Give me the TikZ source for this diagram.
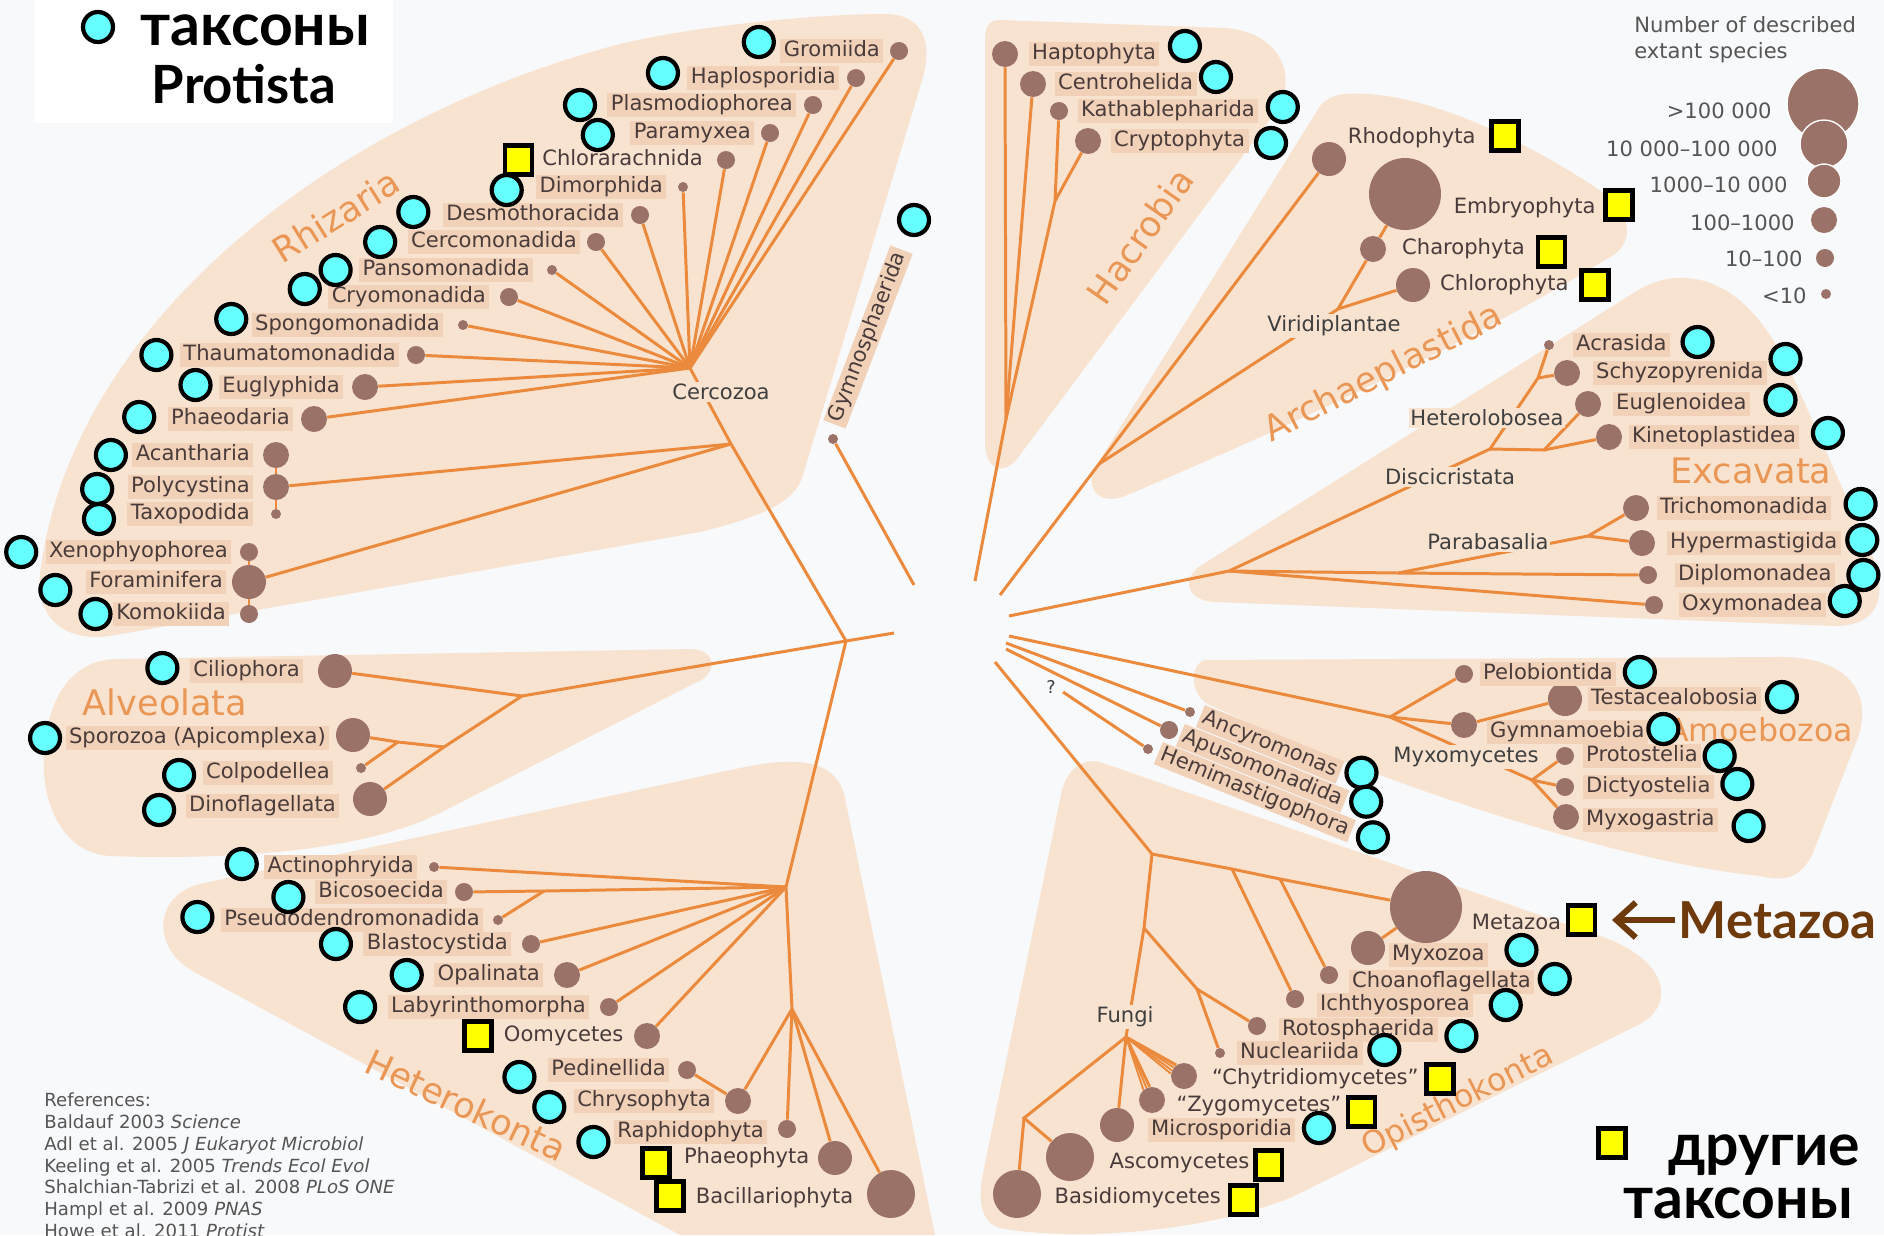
\documentclass[tikz,border=0pt]{standalone}
\usepackage{fontspec}
\setmainfont{DejaVu Sans}
\newfontfamily\titlefont{Lato}
\usetikzlibrary{positioning,arrows.meta}
\definecolor{pagebg}{HTML}{F8F9FB}
\definecolor{cladebg}{HTML}{F8E3D0}
\definecolor{lblbg}{HTML}{F1D2B8}
\definecolor{branchc}{HTML}{EB8A3C}
\definecolor{dotc}{HTML}{9B7268}
\definecolor{lbltxt}{HTML}{4A3B3B}
\definecolor{grouptxt}{HTML}{3F3F3F}
\definecolor{cladetxt}{HTML}{EA9655}
\definecolor{protcyan}{HTML}{66FFFF}
\definecolor{otheryellow}{HTML}{FFFF00}
\definecolor{metabrown}{HTML}{6E3A0C}
\definecolor{legtxt}{HTML}{555555}
\begin{document}
\begin{tikzpicture}[x=0.02cm,y=-0.02cm]
        \tikzstyle{clade}=[fill=cladebg]
        \tikzstyle{branch}=[draw=branchc, line width=1.7pt]
        \tikzstyle{taxon}=[circle, fill=dotc, inner sep=0pt]
        \tikzstyle{sp1}=[taxon, minimum size=0.2cm]
        \tikzstyle{sp2}=[taxon, minimum size=0.36cm]
        \tikzstyle{sp3}=[taxon, minimum size=0.52cm]
        \tikzstyle{sp4}=[taxon, minimum size=0.68cm]
        \tikzstyle{sp5}=[taxon, minimum size=0.96cm]
        \tikzstyle{sp6}=[taxon, minimum size=1.44cm]
        \tikzstyle{taxlbl}=[font=\fontsize{12}{14}\selectfont, text=lbltxt, inner xsep=2pt, inner ysep=1pt, text height=9pt, text depth=2.6pt]
        \tikzstyle{taxbox}=[taxlbl, fill=lblbg]
        \tikzstyle{grouplbl}=[font=\fontsize{12}{14}\selectfont, text=grouptxt, fill=cladebg, inner sep=1pt]
        \tikzstyle{cladename}=[font=\fontsize{20}{24}\selectfont, text=cladetxt, inner sep=0pt]
        \tikzstyle{protist}=[circle, draw=black, line width=2.4pt, fill=protcyan, minimum size=0.6cm, inner sep=0pt]
        \tikzstyle{otherbox}=[rectangle, draw=black, line width=2.4pt, fill=otheryellow, minimum width=0.54cm, minimum height=0.58cm, inner sep=0pt]
        \tikzstyle{titletxt}=[font=\titlefont\bfseries\fontsize{30}{34}\selectfont, inner sep=0pt]
        \tikzstyle{cyrtxt}=[font=\titlefont\bfseries\fontsize{33.5}{38}\selectfont, inner sep=0pt]
        \tikzstyle{legendtxt}=[font=\fontsize{12}{14.7}\selectfont, text=legtxt, inner sep=0pt]
        \tikzstyle{reftxt}=[font=\fontsize{10.3}{12.5}\selectfont, text=legtxt, inner sep=0pt, align=left]
        \tikzstyle{metaarrow}=[draw=metabrown, line width=3.4pt, -{Straight Barb[length=11pt, width=20pt]}]

        \fill[pagebg] (0,0) rectangle (1884,1235);
        \useasboundingbox (0,0) rectangle (1884,1235);

        \fill[clade] (620,44) .. controls (700,25) and (820,14) .. (885,14) .. controls (925,14) and (932,45) .. (923,77) -- (803,475) .. controls (795,503) and (760,517) .. (700,532) -- (110,636) .. controls (60,643) and (36,613) .. (40,574) .. controls (70,325) and (330,120) .. (620,44) -- cycle;
        \fill[clade] (1000,20) -- (1225,28) .. controls (1282,32) and (1300,80) .. (1274,114) -- (1020,455) .. controls (1004,478) and (985,470) .. (985,442) -- (985,38) .. controls (985,26) and (990,20) .. (1000,20) -- cycle;
        \fill[clade] (1345,94) .. controls (1420,89) and (1520,138) .. (1595,187) .. controls (1640,217) and (1632,248) .. (1605,260) .. controls (1450,355) and (1250,443) .. (1125,496) .. controls (1095,507) and (1083,483) .. (1098,463) -- (1320,106) .. controls (1327,98) and (1335,95) .. (1345,94) -- cycle;
        \fill[clade] (1676,278) .. controls (1730,275) and (1765,320) .. (1790,370) -- (1872,555) .. controls (1890,600) and (1875,626) .. (1835,626) -- (1215,602) .. controls (1185,601) and (1180,576) .. (1205,563) -- (1635,292) .. controls (1650,283) and (1662,279) .. (1676,278) -- cycle;
        \fill[clade] (1205,660) -- (1775,657) .. controls (1855,655) and (1875,700) .. (1855,745) -- (1812,855) .. controls (1800,878) and (1785,882) .. (1760,876) .. controls (1600,860) and (1350,770) .. (1212,706) .. controls (1190,698) and (1188,665) .. (1205,660) -- cycle;
        \fill[clade] (1100,762) -- (1600,936) .. controls (1670,960) and (1675,1005) .. (1640,1024) -- (1290,1198) .. controls (1180,1240) and (1050,1238) .. (1000,1228) .. controls (982,1223) and (978,1203) .. (982,1178) -- (1062,790) .. controls (1068,768) and (1084,758) .. (1100,762) -- cycle;
        \fill[clade] (115,659) -- (690,649) .. controls (718,649) and (718,675) .. (695,683) -- (440,813) .. controls (360,853) and (220,860) .. (110,856) .. controls (60,853) and (40,798) .. (44,751) .. controls (48,699) and (70,661) .. (115,659) -- cycle;
        \fill[clade] (785,762) .. controls (825,760) and (842,776) .. (846,803) -- (935,1235) -- (680,1235) -- (200,975) .. controls (150,952) and (152,896) .. (200,884) -- (740,768) .. controls (760,764) and (772,762) .. (785,762) -- cycle;

        \fill[white] (35,0) rectangle (393,123);

        \node[cladename, rotate=32] (nRhizaria) at (336,216) {Rhizaria};
        \node[cladename, rotate=55] (nHacrobia) at (1140,236) {Hacrobia};
        \node[cladename, rotate=27] (nArchaeplastida) at (1384,374) {Archaeplastida};
        \node[cladename] (nExcavata) at (1751,471) {Excavata};
        \node[cladename, font=\fontsize{18}{22}\selectfont] (nAmoebozoa) at (1760,730) {Amoebozoa};
        \node[cladename, rotate=27, font=\fontsize{18}{22}\selectfont] (nOpisthokonta) at (1458,1102) {Opisthokonta};
        \node[cladename] (nAlveolata) at (165,702) {Alveolata};
        \node[cladename, rotate=-25] (nHeterokonta) at (466,1105) {Heterokonta};

        \node[sp2] (dGromiida) at (899,51) {};
        \node[sp2] (dHaplosporidia) at (856,78) {};
        \node[sp2] (dPlasmodiophorea) at (813,105) {};
        \node[sp2] (dParamyxea) at (770,133) {};
        \node[sp2] (dChlorarachnida) at (726,160) {};
        \node[sp1] (dDimorphida) at (683,187) {};
        \node[sp2] (dDesmothoracida) at (640,215) {};
        \node[sp2] (dCercomonadida) at (596,242) {};
        \node[sp1] (dPansomonadida) at (552,270) {};
        \node[sp2] (dCryomonadida) at (509,297) {};
        \node[sp1] (dSpongomonadida) at (463,325) {};
        \node[sp2] (dThaumatomonadida) at (416,355) {};
        \node[sp3] (dEuglyphida) at (365,387) {};
        \node[sp3] (dPhaeodaria) at (314,419) {};
        \node[sp3] (dAcantharia) at (276,455) {};
        \node[sp3] (dPolycystina) at (276,487) {};
        \node[sp1] (dTaxopodida) at (276,514) {};
        \node[sp2] (dXenophyophorea) at (249,552) {};
        \node[sp4] (dForaminifera) at (249,582) {};
        \node[sp2] (dKomokiida) at (249,614) {};
        \node[sp1] (dGymnosphaerida) at (833,439) {};

        \node[sp4] (dCiliophora) at (335,671) {};
        \node[sp4] (dSporozoa) at (353,735) {};
        \node[sp1] (dColpodellea) at (361,768) {};
        \node[sp4] (dDinoflagellata) at (370,799) {};

        \node[sp1] (dActinophryida) at (434,867) {};
        \node[sp2] (dBicosoecida) at (464,892) {};
        \node[sp1] (dPseudodendromonadida) at (498,920) {};
        \node[sp2] (dBlastocystida) at (531,944) {};
        \node[sp3] (dOpalinata) at (567,975) {};
        \node[sp2] (dLabyrinthomorpha) at (609,1007) {};
        \node[sp3] (dOomycetes) at (647,1036) {};
        \node[sp2] (dPedinellida) at (687,1070) {};
        \node[sp3] (dChrysophyta) at (738,1101) {};
        \node[sp2] (dRaphidophyta) at (787,1129) {};
        \node[sp4] (dPhaeophyta) at (835,1158) {};
        \node[sp5] (dBacillariophyta) at (891,1194) {};

        \node[sp3] (dHaptophyta) at (1005,54) {};
        \node[sp3] (dCentrohelida) at (1033,84) {};
        \node[sp2] (dKathablepharida) at (1059,111) {};
        \node[sp3] (dCryptophyta) at (1088,141) {};

        \node[sp4] (dRhodophyta) at (1329,159) {};
        \node[sp6] (dEmbryophyta) at (1405,194) {};
        \node[sp3] (dCharophyta) at (1373,249) {};
        \node[sp4] (dChlorophyta) at (1413,285) {};

        \node[sp1] (dAcrasida) at (1549,345) {};
        \node[sp3] (dSchyzopyrenida) at (1567,373) {};
        \node[sp3] (dEuglenoidea) at (1588,404) {};
        \node[sp3] (dKinetoplastidea) at (1609,437) {};
        \node[sp3] (dTrichomonadida) at (1636,508) {};
        \node[sp3] (dHypermastigida) at (1642,543) {};
        \node[sp2] (dDiplomonadea) at (1648,575) {};
        \node[sp2] (dOxymonadea) at (1654,605) {};

        \node[sp2] (dPelobiontida) at (1464,674) {};
        \node[sp4] (dTestacealobosia) at (1565,699) {};
        \node[sp3] (dGymnamoebia) at (1464,725) {};
        \node[sp2] (dProtostelia) at (1565,756) {};
        \node[sp2] (dDictyostelia) at (1565,787) {};
        \node[sp3] (dMyxogastria) at (1566,817) {};

        \node[sp1] (dAncyromonas) at (1190,712) {};
        \node[sp2] (dApusomonadida) at (1169,730) {};
        \node[sp1] (dHemimastigophora) at (1148,749) {};

        \node[sp6] (dMetazoa) at (1426,907) {};
        \node[sp4] (dMyxozoa) at (1368,948) {};
        \node[sp2] (dChoanoflagellata) at (1329,975) {};
        \node[sp2] (dIchthyosporea) at (1295,999) {};
        \node[sp2] (dRotosphaerida) at (1257,1026) {};
        \node[sp1] (dNucleariida) at (1220,1053) {};
        \node[sp3] (dChytridiomycetes) at (1184,1076) {};
        \node[sp3] (dZygomycetes) at (1152,1100) {};
        \node[sp4] (dMicrosporidia) at (1117,1125) {};
        \node[sp5] (dAscomycetes) at (1070,1157) {};
        \node[sp5] (dBasidiomycetes) at (1017,1194) {};

        \coordinate (cRoot) at (846,641);
        \coordinate (cRootEnd) at (894,633);
        \coordinate (cRetaria) at (731,444);
        \coordinate (cCercozoa) at (690,368);
        \coordinate (cGymno) at (914,585);
        \coordinate (cAlveolata) at (522,696);
        \coordinate (cMyzozoa) at (444,747);
        \coordinate (cApicomplexa) at (398,742);
        \coordinate (cHeterokonta) at (786,887);
        \coordinate (cBicosoecida) at (544,891);
        \coordinate (cOchrophyta) at (792,1009);
        \coordinate (cHacrobiaEnd) at (975,581);
        \coordinate (cHacrobia) at (1006,419);
        \coordinate (cCryptista) at (1055,201);
        \coordinate (cArchaeplastidaEnd) at (1000,595);
        \coordinate (cArchaeplastida) at (1099,464);
        \coordinate (cViridiplantae) at (1338,309);
        \coordinate (cExcavataEnd) at (1009,616);
        \coordinate (cExcavata) at (1229,571);
        \coordinate (cFornicata) at (1398,573);
        \coordinate (cParabasalia) at (1588,536);
        \coordinate (cDiscicristata) at (1490,449);
        \coordinate (cHeterolobosea) at (1538,378);
        \coordinate (cEuglenozoa) at (1544,450);
        \coordinate (cAmoebozoaEnd) at (1009,636);
        \coordinate (cAmoebozoa) at (1390,717);
        \coordinate (cMyxomycetes) at (1532,780);
        \coordinate (cAncyromonasEnd) at (1006,643);
        \coordinate (cApusomonadidaEnd) at (1006,649);
        \coordinate (cHemimastigophoraEnd) at (1063,692);
        \coordinate (cOpisthokontaEnd) at (995,662);
        \coordinate (cOpisthokonta) at (1152,854);
        \coordinate (cIchthyo) at (1232,869);
        \coordinate (cChoano) at (1280,879);
        \coordinate (cHolomycota) at (1144,928);
        \coordinate (cNuclearia) at (1197,989);
        \coordinate (cFungi) at (1126,1037);
        \coordinate (cDikarya) at (1024,1118);

        \draw[branch] (cRootEnd) -- (cRoot) -- (cRetaria) -- (cCercozoa);
        \draw[branch] (cCercozoa) -- (dGromiida);
        \draw[branch] (cCercozoa) -- (dHaplosporidia);
        \draw[branch] (cCercozoa) -- (dPlasmodiophorea);
        \draw[branch] (cCercozoa) -- (dParamyxea);
        \draw[branch] (cCercozoa) -- (dChlorarachnida);
        \draw[branch] (cCercozoa) -- (dDimorphida);
        \draw[branch] (cCercozoa) -- (dDesmothoracida);
        \draw[branch] (cCercozoa) -- (dCercomonadida);
        \draw[branch] (cCercozoa) -- (dPansomonadida);
        \draw[branch] (cCercozoa) -- (dCryomonadida);
        \draw[branch] (cCercozoa) -- (dSpongomonadida);
        \draw[branch] (cCercozoa) -- (dThaumatomonadida);
        \draw[branch] (cCercozoa) -- (dEuglyphida);
        \draw[branch] (cCercozoa) -- (dPhaeodaria);
        \draw[branch] (cRetaria) -- (dPolycystina);
        \draw[branch] (cRetaria) -- (dForaminifera);
        \draw[branch] (dAcantharia) -- (dPolycystina) -- (dTaxopodida);
        \draw[branch] (dXenophyophorea) -- (dForaminifera) -- (dKomokiida);
        \draw[branch] (cGymno) -- (dGymnosphaerida);

        \draw[branch] (cRoot) -- (cAlveolata) -- (dCiliophora);
        \draw[branch] (cAlveolata) -- (cMyzozoa) -- (dDinoflagellata);
        \draw[branch] (cMyzozoa) -- (cApicomplexa) -- (dSporozoa);
        \draw[branch] (cApicomplexa) -- (dColpodellea);

        \draw[branch] (cRoot) -- (cHeterokonta) -- (cOchrophyta);
        \draw[branch] (cHeterokonta) -- (dActinophryida);
        \draw[branch] (cHeterokonta) -- (cBicosoecida) -- (dBicosoecida);
        \draw[branch] (cBicosoecida) -- (dPseudodendromonadida);
        \draw[branch] (cHeterokonta) -- (dBlastocystida);
        \draw[branch] (cHeterokonta) -- (dOpalinata);
        \draw[branch] (cHeterokonta) -- (dLabyrinthomorpha);
        \draw[branch] (cHeterokonta) -- (dOomycetes);
        \draw[branch] (cOchrophyta) -- (dChrysophyta);
        \draw[branch] (dPedinellida) -- (dChrysophyta);
        \draw[branch] (cOchrophyta) -- (dRaphidophyta);
        \draw[branch] (cOchrophyta) -- (dPhaeophyta);
        \draw[branch] (cOchrophyta) -- (dBacillariophyta);

        \draw[branch] (cHacrobiaEnd) -- (cHacrobia) -- (dHaptophyta);
        \draw[branch] (cHacrobia) -- (dCentrohelida);
        \draw[branch] (cHacrobia) -- (cCryptista) -- (dKathablepharida);
        \draw[branch] (cCryptista) -- (dCryptophyta);

        \draw[branch] (cArchaeplastidaEnd) -- (cArchaeplastida) -- (dRhodophyta);
        \draw[branch] (cArchaeplastida) -- (cViridiplantae) -- (dChlorophyta);
        \draw[branch] (cViridiplantae) -- (dCharophyta) -- (dEmbryophyta);

        \draw[branch] (cExcavataEnd) -- (cExcavata) -- (dOxymonadea);
        \draw[branch] (cExcavata) -- (cFornicata) -- (dDiplomonadea);
        \draw[branch] (cFornicata) -- (cParabasalia) -- (dTrichomonadida);
        \draw[branch] (cParabasalia) -- (dHypermastigida);
        \draw[branch] (cExcavata) -- (cDiscicristata) -- (cHeterolobosea) -- (dAcrasida);
        \draw[branch] (cHeterolobosea) -- (dSchyzopyrenida);
        \draw[branch] (cDiscicristata) -- (cEuglenozoa) -- (dEuglenoidea);
        \draw[branch] (cEuglenozoa) -- (dKinetoplastidea);

        \draw[branch] (cAmoebozoaEnd) -- (cAmoebozoa) -- (dPelobiontida);
        \draw[branch] (cAmoebozoa) -- (dGymnamoebia) -- (dTestacealobosia);
        \draw[branch] (cAmoebozoa) -- (cMyxomycetes) -- (dProtostelia);
        \draw[branch] (cMyxomycetes) -- (dDictyostelia);
        \draw[branch] (cMyxomycetes) -- (dMyxogastria);

        \draw[branch] (cAncyromonasEnd) -- (dAncyromonas);
        \draw[branch] (cApusomonadidaEnd) -- (dApusomonadida);
        \draw[branch] (cHemimastigophoraEnd) -- (dHemimastigophora);

        \draw[branch] (cOpisthokontaEnd) -- (cOpisthokonta) -- (cIchthyo) -- (cChoano) -- (dMetazoa);
        \draw[branch] (dMyxozoa) -- (dMetazoa);
        \draw[branch] (cChoano) -- (dChoanoflagellata);
        \draw[branch] (cIchthyo) -- (dIchthyosporea);
        \draw[branch] (cOpisthokonta) -- (cHolomycota) -- (cFungi);
        \draw[branch] (cHolomycota) -- (cNuclearia) -- (dRotosphaerida);
        \draw[branch] (cNuclearia) -- (dNucleariida);
        \draw[branch] (cFungi) -- (dChytridiomycetes.125);
        \draw[branch, line width=1.1pt] (cFungi) -- (dChytridiomycetes.140);
        \draw[branch, line width=1.1pt] (cFungi) -- (dChytridiomycetes.155);
        \draw[branch, line width=1.1pt] (cFungi) -- (dChytridiomycetes.170);
        \draw[branch] (cFungi) -- (dZygomycetes.100);
        \draw[branch, line width=1.1pt] (cFungi) -- (dZygomycetes.115);
        \draw[branch, line width=1.1pt] (cFungi) -- (dZygomycetes.130);
        \draw[branch] (cFungi) -- (dMicrosporidia);
        \draw[branch] (cFungi) -- (cDikarya) -- (dAscomycetes);
        \draw[branch] (cDikarya) -- (dBasidiomycetes);

        \node[grouplbl] (gCercozoa) at (721,392) {Cercozoa};
        \node[grouplbl] (gViridiplantae) at (1334,326) {Viridiplantae};
        \node[grouplbl] (gHeterolobosea) at (1487,418) {Heterolobosea};
        \node[grouplbl] (gDiscicristata) at (1450,477) {Discicristata};
        \node[grouplbl] (gParabasalia) at (1488,542) {Parabasalia};
        \node[grouplbl] (gMyxomycetes) at (1466,757) {Myxomycetes};
        \node[grouplbl] (gFungi) at (1125,1017) {Fungi};
        \node[font=\fontsize{10}{12}\selectfont, text=grouptxt] (gQuery) at (1051,687) {?};

        \node[taxbox, left=0.12cm of dGromiida] (lGromiida) {Gromiida};
        \node[taxbox, left=0.14cm of dHaplosporidia] (lHaplosporidia) {Haplosporidia};
        \node[taxbox, left=0.14cm of dPlasmodiophorea] (lPlasmodiophorea) {Plasmodiophorea};
        \node[taxbox, left=0.12cm of dParamyxea] (lParamyxea) {Paramyxea};
        \node[taxlbl, left=0.2cm of dChlorarachnida] (lChlorarachnida) {Chlorarachnida};
        \node[taxbox, left=0.22cm of dDimorphida] (lDimorphida) {Dimorphida};
        \node[taxbox, left=0.14cm of dDesmothoracida] (lDesmothoracida) {Desmothoracida};
        \node[taxbox, left=0.12cm of dCercomonadida] (lCercomonadida) {Cercomonadida};
        \node[taxbox, left=0.26cm of dPansomonadida] (lPansomonadida) {Pansomonadida};
        \node[taxbox, left=0.2cm of dCryomonadida] (lCryomonadida) {Cryomonadida};
        \node[taxbox, left=0.28cm of dSpongomonadida] (lSpongomonadida) {Spongomonadida};
        \node[taxbox, left=0.14cm of dThaumatomonadida] (lThaumatomonadida) {Thaumatomonadida};
        \node[taxbox, left=0.16cm of dEuglyphida] (lEuglyphida) {Euglyphida};
        \node[taxbox, left=0.14cm of dPhaeodaria] (lPhaeodaria) {Phaeodaria};
        \node[taxbox, left=0.18cm of dAcantharia] (lAcantharia) {Acantharia};
        \node[taxbox, left=0.18cm of dPolycystina] (lPolycystina) {Polycystina};
        \node[taxbox, left=0.34cm of dTaxopodida] (lTaxopodida) {Taxopodida};
        \node[taxbox, left=0.16cm of dXenophyophorea] (lXenophyophorea) {Xenophyophorea};
        \node[taxbox, left=0.1cm of dForaminifera] (lForaminifera) {Foraminifera};
        \node[taxbox, left=0.2cm of dKomokiida] (lKomokiida) {Komokiida};
        \node[taxbox, rotate=69] (lGymnosphaerida) at (868,337) {Gymnosphaerida};

        \node[taxbox, left=0.28cm of dCiliophora] (lCiliophora) {Ciliophora};
        \node[taxbox, left=0.12cm of dSporozoa, yshift=-0.06cm] (lSporozoa) {Sporozoa (Apicomplexa)};
        \node[taxbox, left=0.44cm of dColpodellea, yshift=-0.1cm] (lColpodellea) {Colpodellea};
        \node[taxbox, left=0.26cm of dDinoflagellata, yshift=-0.14cm] (lDinoflagellata) {Dinoflagellata};

        \node[taxbox, left=0.22cm of dActinophryida] (lActinophryida) {Actinophryida};
        \node[taxbox, left=0.14cm of dBicosoecida] (lBicosoecida) {Bicosoecida};
        \node[taxbox, left=0.18cm of dPseudodendromonadida] (lPseudodendromonadida) {Pseudodendromonadida};
        \node[taxbox, left=0.2cm of dBlastocystida] (lBlastocystida) {Blastocystida};
        \node[taxbox, left=0.2cm of dOpalinata] (lOpalinata) {Opalinata};
        \node[taxbox, left=0.2cm of dLabyrinthomorpha] (lLabyrinthomorpha) {Labyrinthomorpha};
        \node[taxlbl, left=0.13cm of dOomycetes] (lOomycetes) {Oomycetes};
        \node[taxbox, left=0.16cm of dPedinellida] (lPedinellida) {Pedinellida};
        \node[taxbox, left=0.2cm of dChrysophyta] (lChrysophyta) {Chrysophyta};
        \node[taxbox, left=0.2cm of dRaphidophyta, yshift=-0.06cm] (lRaphidophyta) {Raphidophyta};
        \node[taxlbl, left=0.09cm of dPhaeophyta] (lPhaeophyta) {Phaeophyta};
        \node[taxlbl, left=0.19cm of dBacillariophyta, yshift=-0.08cm] (lBacillariophyta) {Bacillariophyta};

        \node[taxbox, right=0.2cm of dHaptophyta] (lHaptophyta) {Haptophyta};
        \node[taxbox, right=0.16cm of dCentrohelida] (lCentrohelida) {Centrohelida};
        \node[taxbox, right=0.18cm of dKathablepharida] (lKathablepharida) {Kathablepharida};
        \node[taxbox, right=0.18cm of dCryptophyta] (lCryptophyta) {Cryptophyta};

        \node[taxlbl, anchor=west] (lRhodophyta) at (1344,138) {Rhodophyta};
        \node[taxlbl, anchor=west] (lEmbryophyta) at (1450,208) {Embryophyta};
        \node[taxlbl, right=0.24cm of dCharophyta] (lCharophyta) {Charophyta};
        \node[taxlbl, right=0.12cm of dChlorophyta] (lChlorophyta) {Chlorophyta};

        \node[taxbox, right=0.36cm of dAcrasida] (lAcrasida) {Acrasida};
        \node[taxbox, right=0.24cm of dSchyzopyrenida] (lSchyzopyrenida) {Schyzopyrenida};
        \node[taxbox, right=0.22cm of dEuglenoidea] (lEuglenoidea) {Euglenoidea};
        \node[taxbox, right=0.12cm of dKinetoplastidea] (lKinetoplastidea) {Kinetoplastidea};
        \node[taxbox, right=0.14cm of dTrichomonadida] (lTrichomonadida) {Trichomonadida};
        \node[taxbox, right=0.22cm of dHypermastigida] (lHypermastigida) {Hypermastigida};
        \node[taxbox, right=0.34cm of dDiplomonadea] (lDiplomonadea) {Diplomonadea};
        \node[taxbox, right=0.3cm of dOxymonadea] (lOxymonadea) {Oxymonadea};

        \node[taxbox, right=0.12cm of dPelobiontida] (lPelobiontida) {Pelobiontida};
        \node[taxbox, right=0.1cm of dTestacealobosia] (lTestacealobosia) {Testacealobosia};
        \node[taxbox, right=0.18cm of dGymnamoebia, yshift=-0.14cm] (lGymnamoebia) {Gymnamoebia};
        \node[taxbox, right=0.16cm of dProtostelia] (lProtostelia) {Protostelia};
        \node[taxbox, right=0.16cm of dDictyostelia] (lDictyostelia) {Dictyostelia};
        \node[taxbox, right=0.06cm of dMyxogastria, yshift=-0.06cm] (lMyxogastria) {Myxogastria};

        \node[taxbox, rotate=-22, anchor=west] (lAncyromonas) at (1200,716) {Ancyromonas};
        \node[taxbox, rotate=-22, anchor=west] (lApusomonadida) at (1180,735) {Apusomonadida};
        \node[taxbox, rotate=-22, anchor=west] (lHemimastigophora) at (1158,753) {Hemimastigophora};

        \node[taxlbl, anchor=west] (lMetazoa) at (1468,924) {Metazoa};
        \node[taxbox, right=0.06cm of dMyxozoa, yshift=-0.14cm] (lMyxozoa) {Myxozoa};
        \node[taxbox, right=0.2cm of dChoanoflagellata, yshift=-0.14cm] (lChoanoflagellata) {Choanoflagellata};
        \node[taxbox, right=0.24cm of dIchthyosporea, yshift=-0.12cm] (lIchthyosporea) {Ichthyosporea};
        \node[taxbox, right=0.24cm of dRotosphaerida, yshift=-0.08cm] (lRotosphaerida) {Rotosphaerida};
        \node[taxbox, right=0.22cm of dNucleariida] (lNucleariida) {Nucleariida};
        \node[taxlbl, right=0.22cm of dChytridiomycetes, yshift=-0.06cm] (lChytridiomycetes) {``Chytridiomycetes''};
        \node[taxlbl, right=0.15cm of dZygomycetes, yshift=-0.12cm] (lZygomycetes) {``Zygomycetes''};
        \node[taxbox, right=0.26cm of dMicrosporidia, yshift=-0.1cm] (lMicrosporidia) {Microsporidia};
        \node[taxlbl, right=0.23cm of dAscomycetes, yshift=-0.12cm] (lAscomycetes) {Ascomycetes};
        \node[taxlbl, right=0.19cm of dBasidiomycetes, yshift=-0.08cm] (lBasidiomycetes) {Basidiomycetes};

        \node[protist, left=0.08cm of lGromiida, yshift=0.18cm] (mGromiida) {};
        \node[protist, left=0.14cm of lHaplosporidia, yshift=0.1cm] (mHaplosporidia) {};
        \node[protist, left=0.2cm of lPlasmodiophorea] (mPlasmodiophorea) {};
        \node[protist, left=0.3cm of lParamyxea, yshift=-0.04cm] (mParamyxea) {};
        \node[otherbox, left=0.08cm of lChlorarachnida] (mChlorarachnida) {};
        \node[protist, left=0.24cm of lDimorphida, yshift=-0.06cm] (mDimorphida) {};
        \node[protist, left=0.24cm of lDesmothoracida, yshift=0.06cm] (mDesmothoracida) {};
        \node[protist, left=0.2cm of lCercomonadida] (mCercomonadida) {};
        \node[protist, left=0.12cm of lCryomonadida, yshift=0.16cm] (mCryomonadida) {};
        \node[protist, left=0.12cm of lPansomonadida] (mPansomonadida) {};
        \node[protist, left=0.06cm of lSpongomonadida, yshift=0.12cm] (mSpongomonadida) {};
        \node[protist, left=0.12cm of lThaumatomonadida] (mThaumatomonadida) {};
        \node[protist, left=0.12cm of lEuglyphida, yshift=0.04cm] (mEuglyphida) {};
        \node[protist, left=0.22cm of lPhaeodaria, yshift=0.04cm] (mPhaeodaria) {};
        \node[protist, left=0.08cm of lAcantharia] (mAcantharia) {};
        \node[protist, left=0.26cm of lPolycystina, yshift=-0.04cm] (mPolycystina) {};
        \node[protist, left=0.22cm of lTaxopodida, yshift=-0.1cm] (mTaxopodida) {};
        \node[protist, left=0.14cm of lXenophyophorea] (mXenophyophorea) {};
        \node[protist, left=0.26cm of lForaminifera, yshift=-0.16cm] (mForaminifera) {};
        \node[protist, left=0cm of lKomokiida] (mKomokiida) {};
        \node[protist] (mGymnosphaerida) at (914,220) {};

        \node[protist, left=0.2cm of lCiliophora, yshift=0.06cm] (mCiliophora) {};
        \node[protist, left=0.06cm of lSporozoa] (mSporozoa) {};
        \node[protist, left=0.12cm of lColpodellea, yshift=-0.04cm] (mColpodellea) {};
        \node[protist, left=0.18cm of lDinoflagellata, yshift=-0.08cm] (mDinoflagellata) {};

        \node[protist, left=0.1cm of lActinophryida, yshift=0.06cm] (mActinophryida) {};
        \node[protist, left=0.18cm of lBicosoecida, yshift=-0.1cm] (mBicosoecida) {};
        \node[protist, left=0.12cm of lPseudodendromonadida, yshift=0.06cm] (mPseudodendromonadida) {};
        \node[protist, left=0.2cm of lBlastocystida] (mBlastocystida) {};
        \node[protist, left=0.2cm of lOpalinata] (mOpalinata) {};
        \node[protist, left=0.2cm of lLabyrinthomorpha] (mLabyrinthomorpha) {};
        \node[otherbox, left=0.13cm of lOomycetes] (mOomycetes) {};
        \node[protist, left=0.22cm of lPedinellida, yshift=-0.14cm] (mPedinellida) {};
        \node[protist, left=0.14cm of lChrysophyta, yshift=-0.12cm] (mChrysophyta) {};
        \node[protist, left=0.06cm of lRaphidophyta, yshift=-0.2cm] (mRaphidophyta) {};
        \node[otherbox, left=0.17cm of lPhaeophyta, yshift=-0.1cm] (mPhaeophyta) {};
        \node[otherbox, left=0.13cm of lBacillariophyta, yshift=0.04cm] (mBacillariophyta) {};

        \node[protist, right=0.16cm of lHaptophyta, yshift=0.16cm] (mHaptophyta) {};
        \node[protist, right=0.04cm of lCentrohelida, yshift=0.14cm] (mCentrohelida) {};
        \node[protist, right=0.14cm of lKathablepharida, yshift=0.08cm] (mKathablepharida) {};
        \node[protist, right=0.1cm of lCryptophyta, yshift=-0.04cm] (mCryptophyta) {};

        \node[otherbox, right=0.2cm of lRhodophyta, yshift=0.04cm] (mRhodophyta) {};
        \node[otherbox, right=0.08cm of lEmbryophyta, yshift=0.06cm] (mEmbryophyta) {};
        \node[otherbox, right=0.14cm of lCharophyta, yshift=-0.06cm] (mCharophyta) {};
        \node[otherbox, right=0.14cm of lChlorophyta] (mChlorophyta) {};

        \node[protist, right=0.2cm of lAcrasida, yshift=0.06cm] (mAcrasida) {};
        \node[protist, right=0.02cm of lSchyzopyrenida, yshift=0.28cm] (mSchyzopyrenida) {};
        \node[protist, right=0.26cm of lEuglenoidea, yshift=0.08cm] (mEuglenoidea) {};
        \node[protist, right=0.22cm of lKinetoplastidea, yshift=0.08cm] (mKinetoplastidea) {};
        \node[protist, right=0.24cm of lTrichomonadida, yshift=0.08cm] (mTrichomonadida) {};
        \node[protist, right=0.08cm of lHypermastigida, yshift=0.06cm] (mHypermastigida) {};
        \node[protist, right=0.22cm of lDiplomonadea] (mDiplomonadea) {};
        \node[protist, right=0.02cm of lOxymonadea, yshift=0.08cm] (mOxymonadea) {};

        \node[protist, right=0.12cm of lPelobiontida, yshift=0.04cm] (mPelobiontida) {};
        \node[protist, right=0.06cm of lTestacealobosia, yshift=0.04cm] (mTestacealobosia) {};
        \node[protist, right=0cm of lGymnamoebia, xshift=-0.04cm, yshift=0.06cm] (mGymnamoebia) {};
        \node[protist, right=0.02cm of lProtostelia] (mProtostelia) {};
        \node[protist, right=0.12cm of lDictyostelia, yshift=0.06cm] (mDictyostelia) {};
        \node[protist, right=0.26cm of lMyxogastria, yshift=-0.12cm] (mMyxogastria) {};

        \node[protist, right=0.08cm of lAncyromonas] (mAncyromonas) {};
        \node[protist, right=0.08cm of lApusomonadida] (mApusomonadida) {};
        \node[protist, right=0.08cm of lHemimastigophora, yshift=-0.12cm] (mHemimastigophora) {};

        \node[otherbox, right=0.02cm of lMetazoa, yshift=0.08cm] (mMetazoa) {};
        \node[protist, right=0.32cm of lMyxozoa, yshift=0.1cm] (mMyxozoa) {};
        \node[protist, right=0.06cm of lChoanoflagellata, yshift=0.06cm] (mChoanoflagellata) {};
        \node[protist, right=0.3cm of lIchthyosporea] (mIchthyosporea) {};
        \node[protist, right=0.12cm of lRotosphaerida, yshift=-0.12cm] (mRotosphaerida) {};
        \node[protist, right=0.08cm of lNucleariida, yshift=0.06cm] (mNucleariida) {};
        \node[otherbox, right=0.04cm of lChytridiomycetes] (mChytridiomycetes) {};
        \node[otherbox, right=0.02cm of lZygomycetes, yshift=-0.12cm] (mZygomycetes) {};
        \node[protist, right=0.12cm of lMicrosporidia, yshift=0.04cm] (mMicrosporidia) {};
        \node[otherbox, right=0cm of lAscomycetes, yshift=-0.04cm] (mAscomycetes) {};
        \node[otherbox, right=0.06cm of lBasidiomycetes, yshift=-0.04cm] (mBasidiomycetes) {};

        \node[legendtxt, anchor=north west, align=left] (tLegendHead) at (1634,16) {Number of described\\extant species};
        \node[sp6, draw=white, line width=0.8pt] (kGiant) at (1823,104) {};
        \node[sp5, draw=white, line width=0.8pt] (kHuge) at (1824,144) {};
        \node[sp4, draw=white, line width=0.8pt] (kLarge) at (1824,181) {};
        \node[sp3] (kMid) at (1824,220) {};
        \node[sp2] (kSmall) at (1825,258) {};
        \node[sp1] (kTiny) at (1826,294) {};
        \node[legendtxt, anchor=east] (tGiant) at (1772,111) {>100 000};
        \node[legendtxt, anchor=east] (tHuge) at (1778,149) {10 000--100 000};
        \node[legendtxt, anchor=east] (tLarge) at (1788,185) {1000--10 000};
        \node[legendtxt, anchor=east] (tMid) at (1795,223) {100--1000};
        \node[legendtxt, anchor=east] (tSmall) at (1803,259) {10--100};
        \node[legendtxt, anchor=east] (tTiny) at (1807,296) {<10};

        \node[reftxt, anchor=north west] (tRefs) at (44,1092) {References:\\Baldauf 2003 \textit{Science}\\Adl et al. 2005 \textit{J Eukaryot Microbiol}\\Keeling et al. 2005 \textit{Trends Ecol Evol}\\Shalchian-Tabrizi et al. 2008 \textit{PLoS ONE}\\Hampl et al. 2009 \textit{PNAS}\\Howe et al. 2011 \textit{Protist}};

        \node[protist] (mTitle) at (98,27) {};
        \node[cyrtxt, anchor=base west] (tTitleTaxa) at (140,45) {таксоны};
        \node[titletxt, anchor=base] (tTitleProtista) at (244,103) {Protista};
        \node[otherbox] (mLegendOther) at (1612,1143) {};
        \node[cyrtxt, anchor=base west] (tOtherTop) at (1668,1165) {другие};
        \node[cyrtxt, anchor=base east] (tOtherBottom) at (1853,1218) {таксоны};
        \node[titletxt, font=\titlefont\bfseries\fontsize{29}{33}\selectfont, text=metabrown, anchor=west, inner xsep=2pt] (tMetazoa) at (1675,920) {Metazoa};
        \coordinate (cMetazoaTip) at (1612,920);
        \draw[metaarrow] (tMetazoa) -- (cMetazoaTip);
\end{tikzpicture}
\end{document}
